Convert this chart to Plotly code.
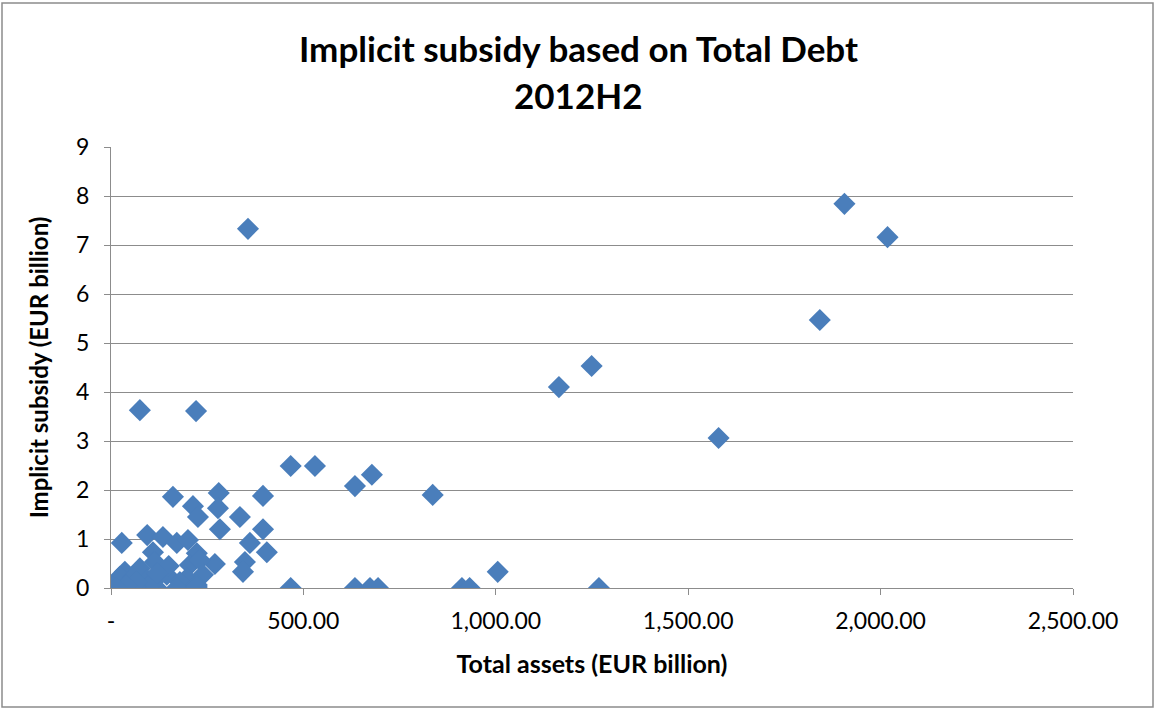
import plotly.graph_objects as go

total_assets = [356, 1906, 2018, 1842, 1249, 1164, 1579, 75, 221, 467, 530, 678, 634, 836,
                1005, 1268, 467, 634, 673, 694, 912, 932,
                161, 280, 395, 213, 278, 226, 335, 283, 395, 361, 405, 270, 348, 343,
                28, 94, 135, 171, 200, 223, 109, 114, 205, 231, 36, 75, 23, 57, 94, 145,
                197, 239, 179, 223, 5, 67, 119, 171, 223, 109, 67, 150, 120, 40, 15]
implicit_subsidy = [7.33, 7.84, 7.16, 5.47, 4.53, 4.10, 3.06, 3.63, 3.61, 2.49, 2.49, 2.31, 2.08, 1.90,
                    0.33, 0.0, 0.0, 0.0, 0.0, 0.0, 0.0, 0.0,
                    1.86, 1.94, 1.88, 1.67, 1.63, 1.45, 1.45, 1.20, 1.20, 0.92, 0.73, 0.49, 0.53, 0.33,
                    0.92, 1.08, 1.04, 0.92, 0.98, 0.71, 0.73, 0.53, 0.47, 0.57, 0.33, 0.40, 0.23, 0.22, 0.16, 0.27,
                    0.20, 0.27, 0.12, 0.06, 0.02, 0.0, 0.0, 0.0, 0.02, 0.12, 0.12, 0.45, 0.30, 0.05, 0.0]

x_tickvals = [0, 500, 1000, 1500, 2000, 2500]
x_ticktext = ["-", "500.00", "1,000.00", "1,500.00", "2,000.00", "2,500.00"]
y_tickvals = [0, 1, 2, 3, 4, 5, 6, 7, 8, 9]
title_lines = ["Implicit subsidy based on Total Debt", "2012H2"]

fig = go.Figure(go.Scatter(
    x=total_assets, y=implicit_subsidy, mode="markers",
    marker=dict(symbol="diamond", size=17, color="#4A7EBB", line=dict(width=0)),
    hoverinfo="x+y",
))

font_family = "Lato, 'Open Sans', sans-serif"
grid = "#8C8C8C"

fig.update_layout(
    width=1155, height=710,
    paper_bgcolor="white", plot_bgcolor="white",
    margin=dict(l=111, r=82, t=147, b=122),
    showlegend=False,
    font=dict(family=font_family, color="#000000"),
    xaxis=dict(
        range=[0, 2500], tickvals=x_tickvals, ticktext=x_ticktext,
        showgrid=False, zeroline=False,
        showline=True, linecolor=grid, linewidth=1,
        ticks="outside", ticklen=6, tickcolor=grid,
        ticklabelstandoff=6,
        tickfont=dict(size=23, color="#000000"),
        title=dict(text="<b>Total assets (EUR billion)</b>", font=dict(size=25), standoff=22),
    ),
    yaxis=dict(
        range=[0, 9], tickvals=y_tickvals,
        showgrid=True, gridcolor=grid, gridwidth=1, zeroline=False,
        showline=True, linecolor=grid, linewidth=1,
        ticks="outside", ticklen=6, tickcolor=grid,
        ticklabelstandoff=10,
        tickfont=dict(size=23, color="#000000"),
        title=dict(text="<b>Implicit subsidy (EUR billion)</b>", font=dict(size=24), standoff=20),
    ),
    shapes=[dict(type="rect", xref="paper", yref="paper", x0=-109/962, x1=1+80/962,
                 y0=-119/441, y1=1+144/441, line=dict(color="#8C8C8C", width=1.5),
                 fillcolor="rgba(0,0,0,0)", layer="below")],
    annotations=[
        dict(text="<b>" + title_lines[0] + "</b>", xref="paper", yref="paper",
             x=(578 - 111) / 962, y=1 + (147 - 48) / 441, xanchor="center", yanchor="middle",
             showarrow=False, font=dict(size=35, family=font_family, color="#000000")),
        dict(text="<b>" + title_lines[1] + "</b>", xref="paper", yref="paper",
             x=(578 - 111) / 962, y=1 + (147 - 95) / 441, xanchor="center", yanchor="middle",
             showarrow=False, font=dict(size=35, family=font_family, color="#000000")),
    ],
)

fig.write_html("out.html", config={"displayModeBar": False},
               post_script="document.body.style.margin='0';")
